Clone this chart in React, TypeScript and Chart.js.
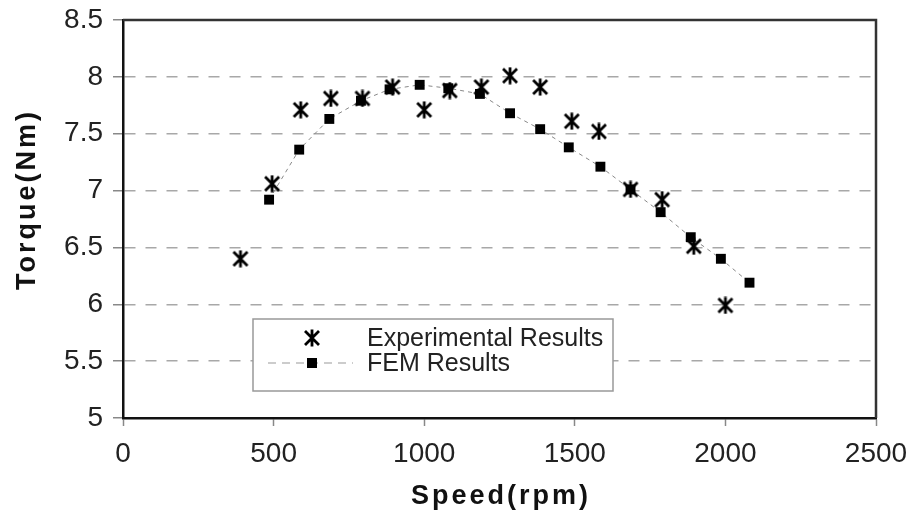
import React, { useEffect, useRef } from 'react';
import { Chart, registerables } from 'chart.js';

Chart.register(...registerables);

const EXP_LABEL = 'Experimental Results';
const FEM_LABEL = 'FEM Results';
const X_TITLE = 'Speed(rpm)';
const Y_TITLE = 'Torque(Nm)';

const EXP_SPEED = [390, 495, 590, 690, 795, 895, 1000, 1085, 1190, 1285, 1385, 1490, 1580, 1685, 1790, 1895, 2000];
const EXP_TORQUE = [6.4, 7.06, 7.71, 7.81, 7.81, 7.91, 7.71, 7.88, 7.91, 8.01, 7.91, 7.61, 7.52, 7.01, 6.92, 6.51, 5.99];

const FEM_SPEED = [485, 585, 685, 790, 885, 985, 1080, 1185, 1285, 1385, 1480, 1585, 1685, 1785, 1885, 1985, 2080];
const FEM_TORQUE = [6.92, 7.36, 7.63, 7.79, 7.89, 7.93, 7.9, 7.85, 7.68, 7.54, 7.38, 7.21, 7.01, 6.81, 6.59, 6.4, 6.19];

const X_TICKS = [0, 500, 1000, 1500, 2000, 2500];
const Y_TICKS = [5, 5.5, 6, 6.5, 7, 7.5, 8, 8.5];

const FONT = '"Liberation Sans", Arial, sans-serif';

function makeAsterisk(size: number, lw: number): HTMLCanvasElement {
  const c = document.createElement('canvas');
  c.width = size;
  c.height = size;
  const ctx = c.getContext('2d')!;
  ctx.strokeStyle = '#000';
  ctx.lineWidth = lw;
  const p = 2;
  ctx.beginPath();
  ctx.moveTo(p, p);
  ctx.lineTo(size - p, size - p);
  ctx.moveTo(size - p, p);
  ctx.lineTo(p, size - p);
  ctx.moveTo(size / 2, 0.5);
  ctx.lineTo(size / 2, size - 0.5);
  ctx.stroke();
  return c;
}

export default function App() {
  const ref = useRef<HTMLCanvasElement | null>(null);

  useEffect(() => {
    const canvas = ref.current;
    if (!canvas) return;
    const star = makeAsterisk(18, 2.8);

    const framePlugin = {
      id: 'frameAndTitles',
      afterDraw(chart: any) {
        const { ctx, chartArea } = chart;
        const { left, right, top, bottom } = chartArea;
        ctx.save();
        // frame (top & right)
        ctx.strokeStyle = '#333';
        ctx.lineWidth = 2.5;
        ctx.beginPath();
        ctx.moveTo(left, top);
        ctx.lineTo(right, top);
        ctx.lineTo(right, bottom);
        ctx.stroke();

        // legend box
        const lx = left + 130;
        const ly = top + 299;
        const lw = 360;
        const lh = 72;
        ctx.fillStyle = '#fff';
        ctx.fillRect(lx, ly, lw, lh);
        ctx.strokeStyle = '#999';
        ctx.lineWidth = 1.5;
        ctx.strokeRect(lx, ly, lw, lh);

        const mx = lx + 59;
        const r1 = ly + 19;
        const r2 = ly + 44;
        ctx.drawImage(star, mx - star.width / 2, r1 - star.height / 2);
        ctx.strokeStyle = '#999';
        ctx.lineWidth = 1;
        ctx.setLineDash([8, 6]);
        ctx.beginPath();
        ctx.moveTo(lx + 15, r2);
        ctx.lineTo(lx + 100, r2);
        ctx.stroke();
        ctx.setLineDash([]);
        ctx.fillStyle = '#000';
        ctx.fillRect(mx - 5, r2 - 5, 10, 10);

        ctx.fillStyle = '#222';
        ctx.font = `25px ${FONT}`;
        ctx.textAlign = 'left';
        ctx.textBaseline = 'middle';
        const ds = chart.data.datasets;
        ctx.fillText(ds[0].label, lx + 114, r1 + 1);
        ctx.fillText(ds[1].label, lx + 114, r2 + 1);

        // axis titles
        ctx.fillStyle = '#111';
        ctx.font = `bold 27px ${FONT}`;
        (ctx as any).letterSpacing = '3px';
        ctx.textAlign = 'center';
        ctx.textBaseline = 'middle';
        ctx.fillText(X_TITLE, (left + right) / 2 + 1.5, 497);
        ctx.translate(28, 201);
        ctx.rotate(-Math.PI / 2);
        ctx.fillText(Y_TITLE, 1.5, 0);
        ctx.restore();
      },
    };

    const chart = new Chart(canvas, {
      type: 'scatter',
      data: {
        datasets: [
          {
            label: EXP_LABEL,
            data: EXP_SPEED.map((x, i) => ({ x, y: EXP_TORQUE[i] })),
            showLine: false,
            pointStyle: star as any,
            pointRadius: 9,
            pointHoverRadius: 9,
          },
          {
            label: FEM_LABEL,
            data: FEM_SPEED.map((x, i) => ({ x, y: FEM_TORQUE[i] })),
            showLine: true,
            borderColor: '#888',
            borderWidth: 1,
            borderDash: [4, 4],
            pointStyle: 'rect',
            pointRadius: 7,
            pointHoverRadius: 7,
            pointBackgroundColor: '#000',
            pointBorderColor: '#000',
            pointBorderWidth: 0,
          },
        ],
      },
      options: {
        responsive: false,
        animation: false,
        devicePixelRatio: 1,
        layout: { padding: { top: 20, right: 37, left: 0, bottom: 0 } },
        plugins: {
          legend: { display: false },
          tooltip: { enabled: false },
        },
        scales: {
          x: {
            type: 'linear',
            min: 0,
            max: 2500,
            afterBuildTicks: (s: any) => {
              s.ticks = X_TICKS.map((v) => ({ value: v }));
            },
            afterFit: (s: any) => {
              s.height = 96;
              s.paddingLeft = 0;
              s.paddingRight = 0;
            },
            ticks: {
              callback: (v: any) => String(v),
              color: '#222',
              font: { family: FONT, size: 28 },
              padding: 11,
              maxRotation: 0,
            },
            grid: {
              drawOnChartArea: false,
              drawTicks: true,
              tickLength: 8,
              tickColor: '#888',
              tickWidth: 1.5,
            },
            border: { display: true, color: '#111', width: 2.5 },
          },
          y: {
            type: 'linear',
            min: 5,
            max: 8.5,
            afterBuildTicks: (s: any) => {
              s.ticks = Y_TICKS.map((v) => ({ value: v }));
            },
            afterFit: (s: any) => {
              s.width = 123;
              s.paddingTop = 0;
              s.paddingBottom = 0;
            },
            ticks: {
              callback: (v: any) => String(v),
              color: '#222',
              font: { family: FONT, size: 28 },
              padding: 10,
            },
            grid: {
              color: '#a8a8a8',
              lineWidth: 1.5,
              tickLength: 10,
              tickColor: '#888',
              tickWidth: 1.5,
              tickBorderDash: [],
            },
            border: { display: true, color: '#111', width: 2.5, dash: [11, 10] },
          },
        },
      },
      plugins: [framePlugin],
    } as any);

    return () => chart.destroy();
  }, []);

  return (
    <div style={{ position: 'absolute', left: 0, top: 0, width: 913, height: 514, background: '#fff' }}>
      <canvas ref={ref} width={913} height={514} />
    </div>
  );
}
